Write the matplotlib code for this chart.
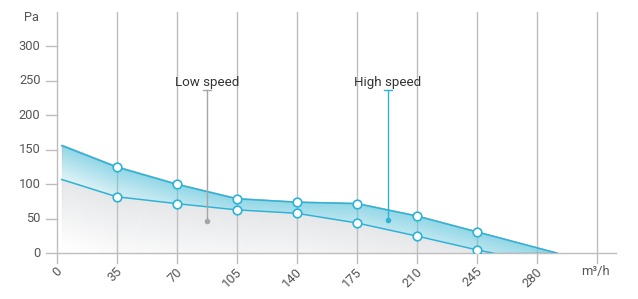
import numpy as np
import matplotlib.pyplot as plt
from matplotlib.colors import to_rgb

plt.switch_backend('Agg')
plt.rcParams['font.family'] = ['Roboto', 'DejaVu Sans']

# data
x_ticks = [0, 35, 70, 105, 140, 175, 210, 245, 280, 315]
y_ticks = [0, 50, 100, 150, 200, 250, 300]

high_x = [3, 35, 70, 105, 140, 175, 210, 245, 292]
high_y = [156, 125, 100, 79, 74, 72, 54, 31, 0]
low_x = [3, 35, 70, 105, 140, 175, 210, 245, 255]
low_y = [107, 82, 72, 63, 58, 44, 25, 5, 0]

# marker points (no marker on the line ends)
high_mx, high_my = high_x[1:-1], high_y[1:-1]
low_mx, low_my = low_x[1:-1], low_y[1:-1]

labels = ["Low speed", "High speed"]
label_x = [87.5, 193]
label_y = [47, 48]

CYAN = '#2db3d6'
GRID = '#bdbdbd'
TXT = '#555555'

fig = plt.figure(figsize=(6.38, 2.99), dpi=100)
ax = fig.add_axes([46 / 638, 1 - 253.3 / 299, (616 - 46) / 638, (253.3 - 11.8) / 299])
ax.set_xlim(-6.12, 326.1)
ax.set_ylim(0, 350)
ax.axis('off')

# gradient fills, fading with distance below each line
gx = np.linspace(0, 300, 1200)
gy = np.linspace(0, 170, 700)
X, Y = np.meshgrid(gx, gy)
hi = np.interp(gx, high_x, high_y)[None, :]
lo = np.interp(gx, low_x, low_y, right=0)[None, :]
valid = (gx[None, :] >= high_x[0]) & (gx[None, :] <= high_x[-1])

rgba = np.zeros(X.shape + (4,))
band = valid & (Y <= hi) & (Y > lo)
d = hi - Y
a_band = np.clip(0.75 * (1 - d / 70.0), 0.1, 0.75)
rgba[band, :3] = np.array(to_rgb('#6cc9de'))
rgba[band, 3] = np.broadcast_to(a_band, X.shape)[band]

under = valid & (Y <= lo) & (gx[None, :] <= low_x[-1])
d2 = lo - Y
a_gray = np.clip(0.45 * (1 - d2 / 100.0), 0.0, 0.45)
rgba[under, :3] = np.array(to_rgb('#c6c9ce'))
rgba[under, 3] = np.broadcast_to(a_gray, X.shape)[under]

ax.imshow(rgba, extent=(gx[0], gx[-1], gy[0], gy[-1]), origin='lower',
          aspect='auto', interpolation='bilinear', zorder=1)

# grid lines (extend below the axis as ticks)
for xt in x_ticks:
    ax.plot([xt, xt], [-14.5, 350], color=GRID, lw=1, clip_on=False, zorder=0.5)
ax.plot([-6.12, 326.1], [0, 0], color=GRID, lw=1, clip_on=False, zorder=0.5)
for yt in y_ticks[1:]:
    ax.plot([-6.12, 0], [yt, yt], color=GRID, lw=1, clip_on=False, zorder=0.5)

# tick labels
for yt in y_ticks:
    ax.annotate(str(yt), xy=(0, yt), xytext=(-16, 0), textcoords='offset pixels',
                ha='right', va='center', fontsize=9.3, color=TXT)
ax.annotate('Pa', xy=(0, 350), xytext=(-25, -6), textcoords='offset pixels',
            ha='center', va='center', fontsize=9.3, color=TXT)
for xt in x_ticks[:-1]:
    ax.annotate(str(xt), xy=(xt, 0), xytext=(3.5, -16.5), textcoords='offset pixels',
                ha='right', va='center', rotation=45, rotation_mode='anchor',
                fontsize=9.3, color=TXT)
ax.annotate('m³/h', xy=(x_ticks[-1], 0), xytext=(-2, -18), textcoords='offset pixels',
            ha='center', va='center', fontsize=9.3, color=TXT)

# series lines
ax.plot(high_x, high_y, color=CYAN, lw=1.1, zorder=3)
ax.plot(low_x, low_y, color=CYAN, lw=1.1, zorder=3)
ax.plot(high_mx, high_my, 'o', ms=6.2, mfc='white', mec=CYAN, mew=1.2, zorder=4)
ax.plot(low_mx, low_my, 'o', ms=6.2, mfc='white', mec=CYAN, mew=1.2, zorder=4)

# series labels with pointer lines
label_top = 236
for name, lx, ly, col in zip(labels, label_x, label_y, ['#a5a5a5', CYAN]):
    ax.plot([lx, lx], [ly, label_top], color=col, lw=1, zorder=5)
    ax.plot([lx - 2.3, lx + 2.3], [label_top, label_top], color=col, lw=1, zorder=5)
    ax.plot(lx, ly, 'o', ms=3, color=col, zorder=5)
    ax.annotate(name, xy=(lx, label_top), xytext=(0, 8), textcoords='offset pixels',
                ha='center', va='center', fontsize=9.6, color='#333333', zorder=6)

fig.savefig('out.png', dpi=100)
